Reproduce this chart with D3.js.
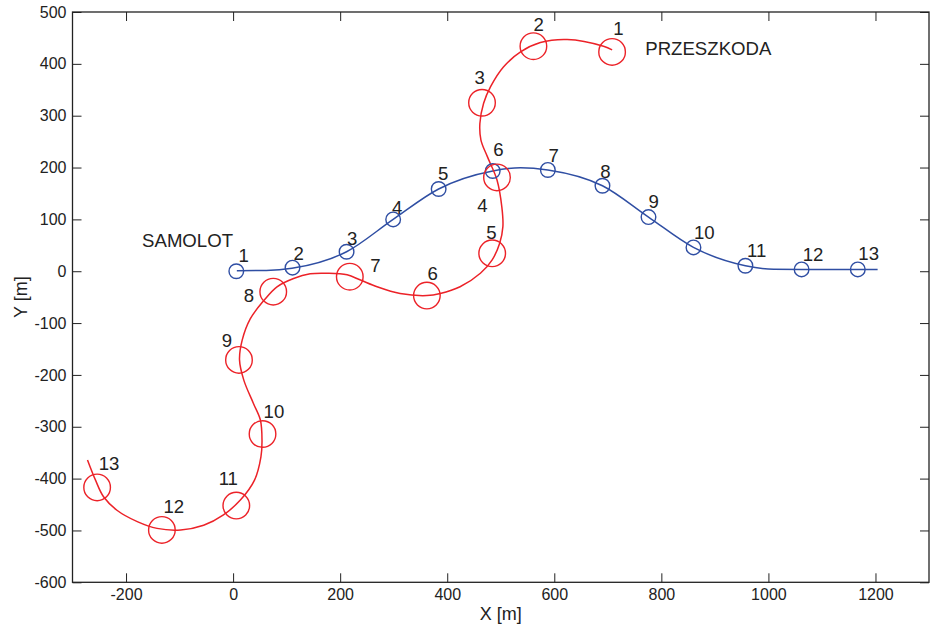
<!DOCTYPE html>
<html>
<head>
<meta charset="utf-8">
<script src="https://cdn.jsdelivr.net/npm/d3@7"></script>
<style>
  body { margin: 0; background: #fff; }
  svg { font-family: "Liberation Sans", Arial, sans-serif; }
</style>
</head>
<body>
<div id="root"></div>
<script>
// Trajectory of the aircraft (SAMOLOT) [x, y] in metres
const planePath = [
  [7, 1], [62, 1.5], [110, 5.6], [212, 37.6], [299, 100], [384, 158.6], [485, 193.3],
  [537, 199.6], [588, 195.3], [690, 164.9], [776, 104.5], [860, 46], [957, 10.6],
  [1010, 3.7], [1062, 3.5], [1167, 3.5], [1204, 3.5]
];
// Aircraft positions at time steps 1..13
const planeX = [6, 111, 212, 299, 384, 485, 588, 690, 776, 860, 957, 1062, 1167];
const planeY = [0, 6.8, 37.6, 100, 158.6, 193.3, 195.3, 164.9, 104.5, 46, 10.6, 3.5, 3.5];
// Where the step numbers of the aircraft are written (data units)
const planeLabelX = [10, 113, 213, 297, 383, 486, 589, 686, 776, 861, 960, 1064, 1168];
const planeLabelY = [17, 21, 50, 111, 176, 222, 211, 179, 121, 63, 28, 19, 21];

// Trajectory of the obstacle (PRZESZKODA)
const obstaclePath = [
  [708, 427], [692, 434], [624, 447], [574, 441], [537, 423], [505, 394], [481, 356],
  [468, 324], [461, 285], [463, 253], [475, 221], [493, 176], [502, 124], [504, 86],
  [498, 54], [484, 22], [462, -4], [424, -30], [387, -43], [362, -47], [312, -43],
  [269, -30], [238, -17], [213, -7], [176, -4], [144, -5], [113, -14], [82, -30],
  [57, -57], [32, -92], [17, -133], [12, -171], [20, -210], [38, -255], [51, -287],
  [54, -326], [52, -358], [40, -403], [14, -441], [-18, -470], [-55, -490], [-98, -499],
  [-142, -496], [-179, -483], [-217, -461], [-242, -435], [-257, -403], [-272, -364]
];
// Obstacle positions at time steps 1..13
const obstacleX = [708, 561, 465, 493, 484, 362, 218, 75, 11, 55, 6, -133, -254];
const obstacleY = [423, 434, 325, 181, 34.5, -47, -10.6, -39.5, -171, -314, -452, -499, -417];
const obstacleLabelX = [710, 561, 451, 456, 473, 363, 256, 20, -21, 57, -27, -130, -251];
const obstacleLabelY = [455, 463, 362, 114, 63, -17, -1, -59, -146, -284, -413, -467, -384];

const stepLabels = d3.range(1, 14).map(String);

const xTicks = [-200, 0, 200, 400, 600, 800, 1000, 1200];
const yTicks = [-600, -500, -400, -300, -200, -100, 0, 100, 200, 300, 400, 500];

// Layout
const width = 934, height = 625;
const plot = { left: 72.5, right: 929, top: 12, bottom: 582.3 };
const tickLen = 9;
const blue = "#2f4ea3", red = "#ec2228", ink = "#222";

const x = d3.scaleLinear().domain([-300, 1300]).range([plot.left, plot.right]);
const y = d3.scaleLinear().domain([-600, 500]).range([plot.bottom, plot.top]);

const svg = d3.select("#root").append("svg")
  .attr("width", width)
  .attr("height", height);

// plain "-200" / "1000" like the original, no thousands separator
const plain = d => String(d);

// Axes with inward ticks on all four sides
const styleAxis = g => {
  g.select(".domain").remove();
  g.selectAll(".tick line").attr("stroke", ink);
  g.selectAll(".tick text").attr("fill", ink).style("font-size", "16px");
};

svg.append("g")
  .attr("transform", `translate(0,${plot.bottom})`)
  .call(d3.axisBottom(x).tickValues(xTicks).tickFormat(plain).tickSizeInner(-tickLen).tickSizeOuter(0).tickPadding(6))
  .call(styleAxis);
svg.append("g")
  .attr("transform", `translate(0,${plot.top})`)
  .call(d3.axisTop(x).tickValues(xTicks).tickSizeInner(-tickLen).tickSizeOuter(0).tickFormat(""))
  .call(styleAxis);
svg.append("g")
  .attr("transform", `translate(${plot.left},0)`)
  .call(d3.axisLeft(y).tickValues(yTicks).tickFormat(plain).tickSizeInner(-tickLen).tickSizeOuter(0).tickPadding(6))
  .call(styleAxis);
svg.append("g")
  .attr("transform", `translate(${plot.right},0)`)
  .call(d3.axisRight(y).tickValues(yTicks).tickSizeInner(-tickLen).tickSizeOuter(0).tickFormat(""))
  .call(styleAxis);

svg.append("rect")
  .attr("x", plot.left)
  .attr("y", plot.top)
  .attr("width", plot.right - plot.left)
  .attr("height", plot.bottom - plot.top)
  .attr("fill", "none")
  .attr("stroke", ink)
  .attr("stroke-width", 1.3);

// Axis titles
svg.append("text")
  .attr("x", (plot.left + plot.right) / 2)
  .attr("y", 620)
  .attr("text-anchor", "middle")
  .attr("fill", ink)
  .style("font-size", "18px")
  .text("X [m]");
svg.append("text")
  .attr("transform", `translate(27,${(plot.top + plot.bottom) / 2}) rotate(-90)`)
  .attr("text-anchor", "middle")
  .attr("fill", ink)
  .style("font-size", "18px")
  .text("Y [m]");

// Lines
const line = d3.line().x(d => x(d[0])).y(d => y(d[1]));

svg.append("path")
  .datum(planePath)
  .attr("d", line.curve(d3.curveMonotoneX))
  .attr("fill", "none")
  .attr("stroke", blue)
  .attr("stroke-width", 1.5);

svg.append("path")
  .datum(obstaclePath)
  .attr("d", line.curve(d3.curveCatmullRom.alpha(0.5)))
  .attr("fill", "none")
  .attr("stroke", red)
  .attr("stroke-width", 1.5);

// Markers
svg.append("g").selectAll("circle")
  .data(planeX)
  .join("circle")
  .attr("cx", d => x(d))
  .attr("cy", (d, i) => y(planeY[i]))
  .attr("r", 7.3)
  .attr("fill", "none")
  .attr("stroke", blue)
  .attr("stroke-width", 1.4);

svg.append("g").selectAll("circle")
  .data(obstacleX)
  .join("circle")
  .attr("cx", d => x(d))
  .attr("cy", (d, i) => y(obstacleY[i]))
  .attr("r", 13.3)
  .attr("fill", "none")
  .attr("stroke", red)
  .attr("stroke-width", 1.4);

// Step numbers
const labelStyle = sel => sel.attr("fill", ink).style("font-size", "18.6px");

svg.append("g").selectAll("text")
  .data(stepLabels)
  .join("text")
  .attr("x", (d, i) => x(planeLabelX[i]))
  .attr("y", (d, i) => y(planeLabelY[i]))
  .call(labelStyle)
  .text(d => d);

svg.append("g").selectAll("text")
  .data(stepLabels)
  .join("text")
  .attr("x", (d, i) => x(obstacleLabelX[i]))
  .attr("y", (d, i) => y(obstacleLabelY[i]))
  .call(labelStyle)
  .text(d => d);

// Series names
svg.append("text")
  .attr("x", x(-170))
  .attr("y", y(47))
  .call(labelStyle)
  .text("SAMOLOT");
svg.append("text")
  .attr("x", x(770))
  .attr("y", y(417))
  .call(labelStyle)
  .text("PRZESZKODA");
</script>
</body>
</html>
